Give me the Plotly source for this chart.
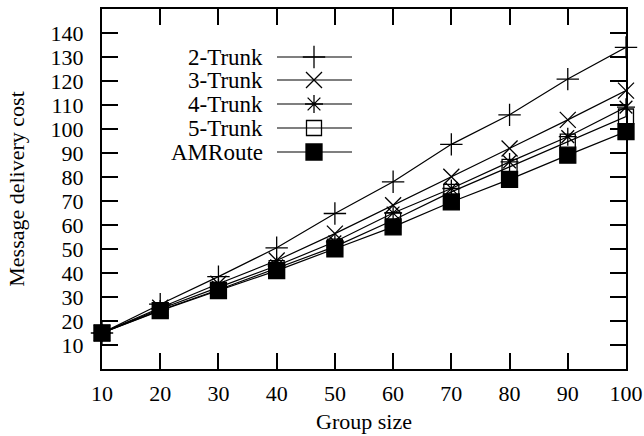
import plotly.graph_objects as go

group_size = [10, 20, 30, 40, 50, 60, 70, 80, 90, 100]
trunk2 = [15, 27, 38.5, 50.5, 64.8, 78.0, 93.6, 105.9, 120.8, 134.0]
trunk3 = [15, 25.5, 35.5, 45.2, 56.4, 68.2, 80.1, 91.9, 103.8, 116.0]
trunk4 = [15, 25, 34, 43, 53, 65, 75.2, 86.3, 96.8, 109.1]
trunk5 = [15, 24.5, 33, 42, 51, 62, 73.8, 84.2, 94.7, 105.2]
amroute = [15, 24.3, 32.7, 41.0, 50.1, 59.2, 69.6, 79.0, 89.1, 98.9]

series_names = ["2-Trunk", "3-Trunk", "4-Trunk", "5-Trunk", "AMRoute"]
series_values = [trunk2, trunk3, trunk4, trunk5, amroute]
y_ticks = [10, 20, 30, 40, 50, 60, 70, 80, 90, 100, 110, 120, 130, 140]

symbols = ["cross-thin", "x-thin", "asterisk", "square-open", "square"]
sizes = [16, 16, 15, 15, 16]

FONT = "Liberation Serif"
W, H = 644, 436
L, R, T, B = 102, 626, 9, 369

fig = go.Figure()
for name, vals, sym, sz in zip(series_names, series_values, symbols, sizes):
    fig.add_trace(go.Scatter(
        x=group_size, y=vals, name=name, mode="lines+markers",
        line=dict(color="black", width=1.2),
        marker=dict(symbol=sym, size=sz, color="black",
                    line=dict(color="black", width=1.3)),
        cliponaxis=False, showlegend=False,
    ))

# custom gnuplot-style key (text, then line sample), placed in pixel axes
key_rows = [57, 80, 104, 128, 152]
for name, sym, sz, ky in zip(series_names, symbols, sizes, key_rows):
    fig.add_trace(go.Scatter(
        x=[277, 352], y=[ky, ky], mode="lines",
        xaxis="x2", yaxis="y2",
        line=dict(color="black", width=1.2),
        showlegend=False, hoverinfo="skip", cliponaxis=False,
    ))
    fig.add_trace(go.Scatter(
        x=[314], y=[ky], mode="markers",
        xaxis="x2", yaxis="y2",
        marker=dict(symbol=sym, size=sz, color="black",
                    line=dict(color="black", width=1.3)),
        showlegend=False, hoverinfo="skip", cliponaxis=False,
    ))
    fig.add_annotation(x=264, y=ky, xref="x2", yref="y2", text=name,
                       showarrow=False, xanchor="right", yanchor="middle",
                       height=22, borderpad=0,
                       font=dict(family=FONT, size=23, color="black"))

fig.update_layout(
    width=W, height=H,
    margin=dict(l=L, r=W - R, t=T, b=H - B, autoexpand=False),
    paper_bgcolor="white", plot_bgcolor="white",
    font=dict(family=FONT, size=22, color="black"),
    xaxis=dict(
        range=[10, 100], tickvals=group_size, ticks="inside", ticklen=16,
        tickwidth=2, tickcolor="black", showline=True, linewidth=2,
        linecolor="black", mirror="ticks", showgrid=False, zeroline=False,
        ticklabelstandoff=4, automargin=False,
        title=dict(text="Group size", standoff=8,
                   font=dict(family=FONT, size=22)),
    ),
    yaxis=dict(
        range=[0, 150], tickvals=y_ticks, ticks="inside", ticklen=16,
        tickwidth=2, tickcolor="black", showline=True, linewidth=2,
        linecolor="black", mirror="ticks", showgrid=False, zeroline=False,
        ticklabelstandoff=12, automargin=False,
        title=dict(text="Message delivery cost", standoff=20,
                   font=dict(family=FONT, size=22)),
    ),
    xaxis2=dict(range=[L, R], overlaying="x", visible=False,
                showgrid=False, zeroline=False),
    yaxis2=dict(range=[B, T], overlaying="y", visible=False,
                showgrid=False, zeroline=False),
)

fig.write_html(
    "out.html",
    config={"displayModeBar": False},
    post_script="document.body.style.margin='0';"
                "document.body.style.overflow='hidden';",
)
